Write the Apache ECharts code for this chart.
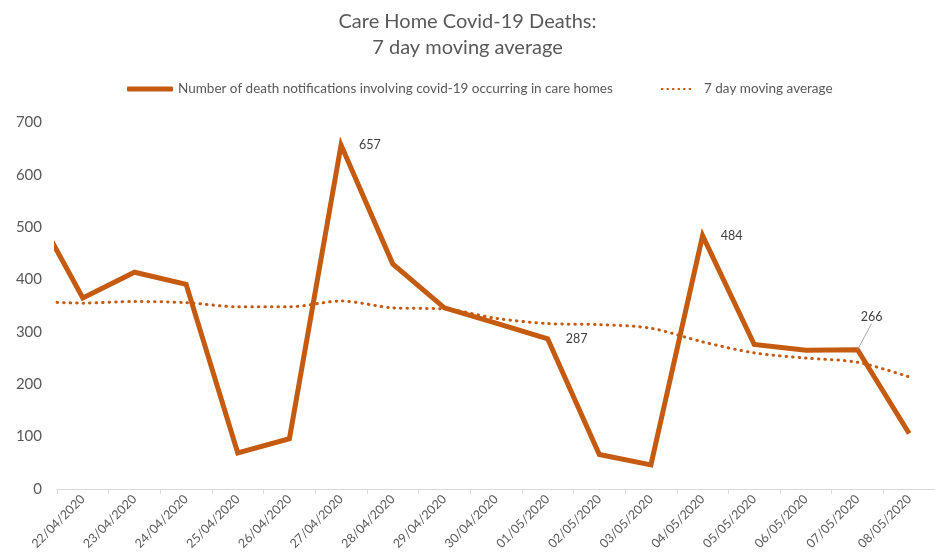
<!DOCTYPE html>
<html>
<head>
<meta charset="utf-8">
<script src="https://cdn.jsdelivr.net/npm/echarts@6/dist/echarts.min.js"></script>
<style>
  html, body { margin: 0; padding: 0; background: #fff; }
  #main { width: 935px; height: 557px; }
</style>
</head>
<body>
<div id="main"></div>
<script>
// first category sits just off the left edge of the plot (axis min = 1)
var dates = ['21/04/2020', '22/04/2020', '23/04/2020', '24/04/2020', '25/04/2020', '26/04/2020',
  '27/04/2020', '28/04/2020', '29/04/2020', '30/04/2020', '01/05/2020', '02/05/2020',
  '03/05/2020', '04/05/2020', '05/05/2020', '06/05/2020', '07/05/2020', '08/05/2020'];
var deaths = [545, 365, 414, 391, 69, 96, 657, 430, 346, 317, 287, 66, 46, 484, 276, 265, 266, 106];
var movingAvg = [359, 355, 358, 356, 348, 348, 359, 346, 344, 326, 316, 314, 307, 281, 260, 250, 242, 214];
var yTicks = [0, 100, 200, 300, 400, 500, 600, 700];

// which points carry a value label
var labelled = ['27/04/2020', '01/05/2020', '04/05/2020', '07/05/2020'];
var guided = '07/05/2020';

var orange = '#C55A11';
var seriesName1 = 'Number of death notifications involving covid-19 occurring in care homes';
var seriesName2 = '7 day moving average';

var deathData = deaths.map(function (v, i) {
  if (labelled.indexOf(dates[i]) < 0) return v;
  if (dates[i] === guided) {
    return {
      value: v, symbol: 'circle', symbolSize: 0.1,
      label: { show: true, position: 'top', distance: 4, color: '#404040', fontSize: 12.5, fontFamily: 'Lato' },
      labelLine: { show: true, lineStyle: { color: '#a6a6a6', width: 1 } }
    };
  }
  return {
    value: v, symbol: 'circle', symbolSize: 0.1,
    label: { show: true, position: 'right', distance: 18, color: '#404040', fontSize: 12.5, fontFamily: 'Lato' },
    labelLine: { show: false }
  };
});

var myChart = echarts.init(document.getElementById('main'));

var legendText = { color: '#595959', fontSize: 13.5, fontFamily: 'Lato' };
// little row of dots for the moving average key
var dotsIcon = 'path://M0,0h2v2h-2z M5,0h2v2h-2z M10,0h2v2h-2z M15,0h2v2h-2z M20,0h2v2h-2z M25,0h2v2h-2z';

var option = {
  animation: false,
  title: {
    text: 'Care Home Covid-19 Deaths:\n7 day moving average',
    left: 'center',
    top: 4,
    textStyle: { color: '#595959', fontSize: 20, fontWeight: 'normal', fontFamily: 'Lato', lineHeight: 26 }
  },
  legend: [
    {
      data: [{ name: seriesName1, icon: 'roundRect' }],
      left: 122,
      top: 77,
      itemWidth: 46,
      itemHeight: 5,
      textStyle: legendText
    },
    {
      data: [{ name: seriesName2, icon: dotsIcon }],
      left: 656,
      top: 77,
      itemWidth: 30,
      itemHeight: 2.5,
      itemGap: 0,
      textStyle: Object.assign({}, legendText, { padding: [0, 0, 0, 8] })
    }
  ],
  grid: { left: 57, right: -5, top: 122.5, bottom: 68, containLabel: false },
  xAxis: {
    type: 'category',
    data: dates,
    min: 1,
    boundaryGap: true,
    axisLine: { lineStyle: { color: '#d9d9d9', width: 1 } },
    axisTick: { show: true, length: 5, lineStyle: { color: '#d9d9d9' } },
    axisLabel: { rotate: 45, interval: 0, color: '#595959', fontSize: 12.5, fontFamily: 'Lato', margin: 8 },
    splitLine: { show: false }
  },
  yAxis: {
    type: 'value',
    min: yTicks[0],
    max: yTicks[yTicks.length - 1],
    interval: 100,
    axisLine: { show: false },
    axisTick: { show: false },
    splitLine: { show: false },
    axisLabel: { color: '#595959', fontSize: 15, fontFamily: 'Lato', margin: 15 }
  },
  series: [
    {
      name: seriesName1,
      type: 'line',
      data: deathData,
      symbol: 'none',
      clip: true,
      lineStyle: { color: orange, width: 5, join: 'miter' },
      itemStyle: { color: orange },
      labelLayout: function (params) {
        if (dates[params.dataIndex] === guided) return { dx: 14, dy: -22 };
        return {};
      },
      z: 3
    },
    {
      name: seriesName2,
      type: 'line',
      data: movingAvg,
      symbol: 'none',
      smooth: 0.3,
      clip: true,
      lineStyle: { color: orange, width: 3, type: [0.5, 6], cap: 'round' },
      itemStyle: { color: orange },
      z: 2
    }
  ]
};

myChart.setOption(option);
</script>
</body>
</html>
